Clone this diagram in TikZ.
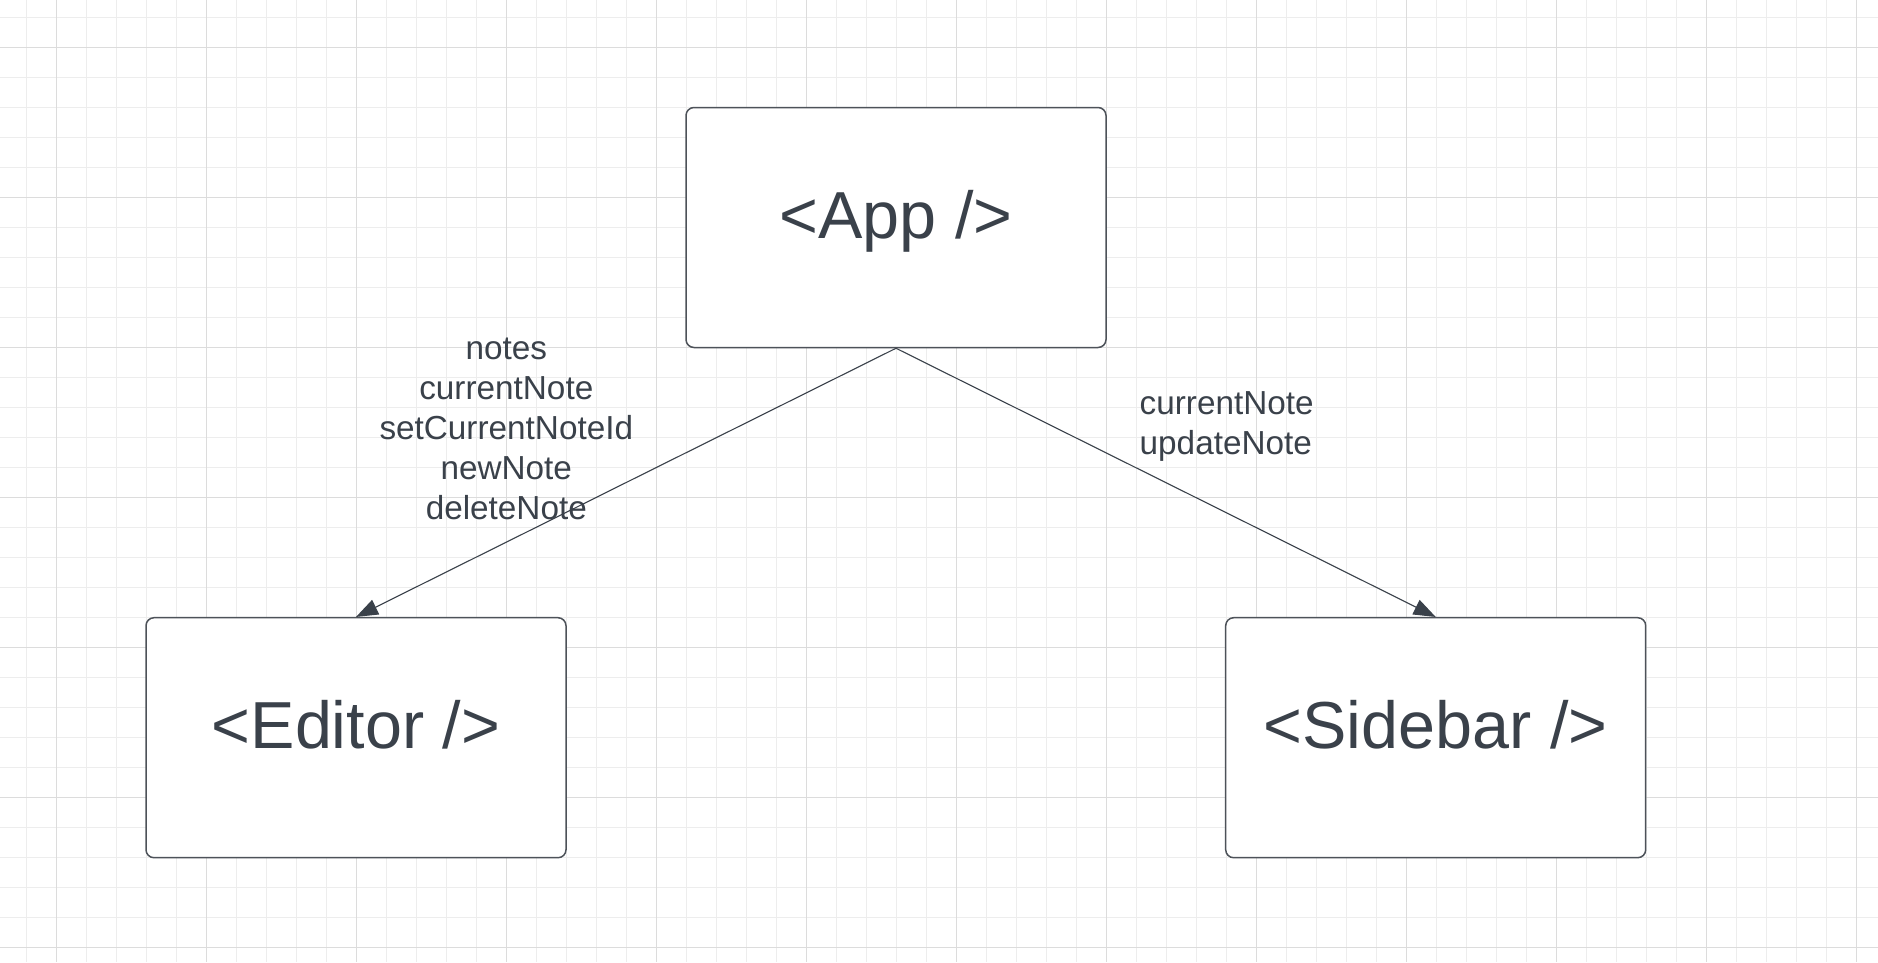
\documentclass[tikz,border=0pt]{standalone}
\usepackage{fontspec}
\setmainfont{Liberation Sans}
\usetikzlibrary{arrows.meta}
\definecolor{txt}{HTML}{3A414A}
\definecolor{bord}{HTML}{4D5259}
\definecolor{gridminor}{HTML}{EDEDED}
\definecolor{gridmajor}{HTML}{DCDCDC}
\tikzset{
  compbox/.style={draw=bord, line width=1.5pt, rounded corners=8pt, fill=white,
    minimum width=420pt, minimum height=240pt, inner sep=0pt,
    text=txt, font=\fontsize{66.5}{74}\selectfont, text height=48pt, text depth=26pt},
  proplabel/.style={inner sep=0pt, text=txt, font=\fontsize{33.3}{40}\selectfont},
  proparrow/.style={draw=txt, line width=1.1pt, -{Triangle[length=22pt,width=16pt]}}
}
\begin{document}
\begin{tikzpicture}[x=1pt,y=-1pt]
\useasboundingbox (0,0) rectangle (1878,962);
\fill[white] (0,0) rectangle (1878,962);
% minor grid
\foreach \gx in {26.7,56.7,...,1878} \draw[gridminor, line width=1pt] (\gx,0) -- (\gx,962);
\foreach \gy in {17.3,47.3,...,962} \draw[gridminor, line width=1pt] (0,\gy) -- (1878,\gy);
% major grid
\foreach \gx in {56.7,206.7,...,1878} \draw[gridmajor, line width=1pt] (\gx,0) -- (\gx,962);
\foreach \gy in {47.3,197.3,...,962} \draw[gridmajor, line width=1pt] (0,\gy) -- (1878,\gy);

\node[compbox] (app) at (896,227.5) {<App />};
\node[compbox] (editor) at (356,737.7) {<Editor />};
\node[compbox] (sidebar) at (1435.7,737.7) {<Sidebar />};

\draw[proparrow] (app.south) -- (editor.north);
\draw[proparrow] (app.south) -- (sidebar.north);

\node[proplabel, align=center, anchor=north] (leftprops) at (506.3,329.7)
  {\rule{0pt}{30pt}notes\\currentNote\\setCurrentNoteId\\newNote\\deleteNote};
\node[proplabel, align=left, anchor=north west] (rightprops) at (1139.5,384.1)
  {\rule{0pt}{30pt}currentNote\\updateNote};
\end{tikzpicture}
\end{document}
